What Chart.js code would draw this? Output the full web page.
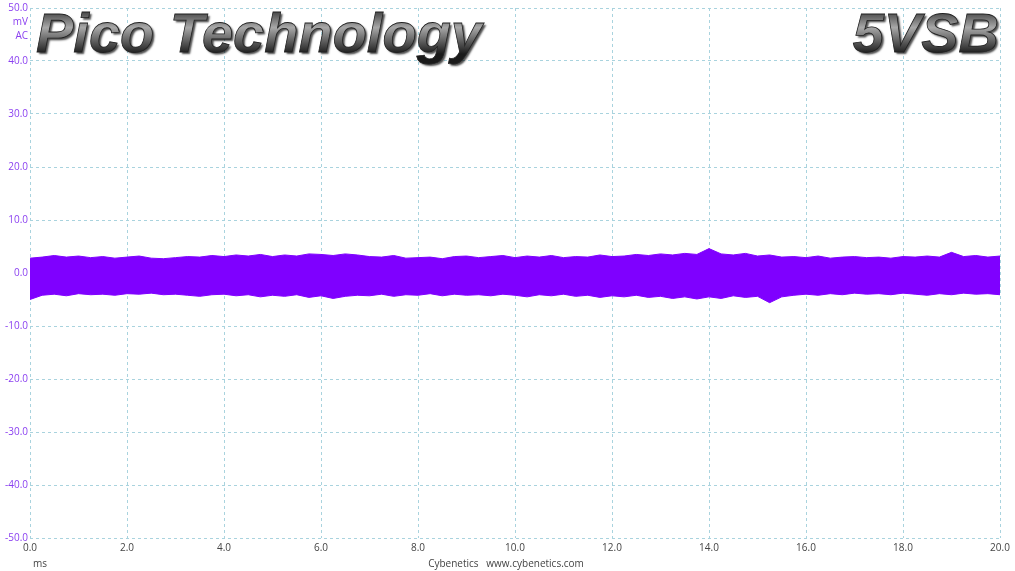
<!DOCTYPE html>
<html>
<head>
<meta charset="utf-8">
<script src="https://cdn.jsdelivr.net/npm/chart.js@4.4.1/dist/chart.umd.min.js"></script>
<style>
  html, body { margin: 0; padding: 0; background: #fff; }
  #wrap { width: 1015px; height: 571px; }
</style>
</head>
<body>
<div id="wrap"><canvas id="scope"></canvas></div>
<script>
// time axis in ms, one sample every 0.25 ms
const times = [];
for (let i = 0; i <= 80; i++) times.push(i * 0.25);

// upper / lower edge of the ripple band (mV)
const upperEdge = [
  2.8, 3.0, 3.3, 3.0, 3.2, 2.9, 3.1, 2.8, 3.0, 3.2,
  2.8, 2.7, 2.9, 3.1, 3.0, 3.3, 3.1, 3.4, 3.2, 3.5,
  3.1, 3.4, 3.2, 3.6, 3.5, 3.3, 3.6, 3.4, 3.1, 3.0,
  3.3, 2.8, 2.9, 3.0, 2.7, 3.1, 3.2, 2.9, 3.1, 3.3,
  2.9, 3.2, 3.0, 3.3, 2.9, 3.1, 3.0, 3.4, 3.1, 3.2,
  3.5, 3.3, 3.6, 3.4, 3.7, 3.5, 4.6, 3.6, 3.4, 3.7,
  3.2, 3.4, 3.0, 3.1, 2.9, 3.2, 2.8, 3.0, 3.1, 2.9,
  3.0, 2.8, 3.1, 3.0, 3.2, 3.0, 3.9, 3.1, 3.3, 3.0,
  3.2
];
const lowerEdge = [
  -5.0, -4.2, -4.0, -4.3, -3.9, -4.1, -4.0, -4.2, -3.9, -4.0,
  -3.8, -4.1, -4.0, -4.2, -4.4, -4.1, -4.0, -4.3, -4.1, -4.5,
  -4.2, -4.4, -4.1, -4.6, -4.3, -4.8, -4.4, -4.2, -4.3, -4.0,
  -4.4, -4.1, -4.2, -3.9, -4.3, -4.0, -4.2, -4.1, -4.3, -4.0,
  -4.2, -4.5, -4.1, -4.3, -4.0, -4.4, -4.2, -4.6, -4.3, -4.5,
  -4.2, -4.6, -4.4, -4.8, -4.5, -4.9, -4.5, -4.8, -4.3, -4.6,
  -4.4, -5.6, -4.5, -4.2, -4.0, -4.2, -3.9, -4.1, -3.8, -4.0,
  -3.9, -4.1, -3.8, -4.0, -4.2, -3.9, -4.1, -3.8, -4.0, -3.9,
  -4.1
];

const traceColor = '#7f00ff';
const gridColor = '#a9d3de';
const labelFont = '"Open Sans", "DejaVu Sans", sans-serif';

// header texts and unit captions
const decorPlugin = {
  id: 'decor',
  afterDraw(chart) {
    const ctx = chart.ctx;
    ctx.save();
    ctx.fillStyle = '#8a3ff0';
    ctx.font = '10px ' + labelFont;
    ctx.textAlign = 'right';
    ctx.textBaseline = 'middle';
    ctx.fillText('mV', 28, 22);
    ctx.fillText('AC', 28, 36);

    ctx.fillStyle = '#444';
    ctx.textAlign = 'left';
    ctx.fillText('ms', 33, 564);
    ctx.textAlign = 'center';
    ctx.fillText('Cybenetics   www.cybenetics.com', 506, 564);

    drawTitle(ctx, 'Pico Technology', 36, 52, 'left');
    drawTitle(ctx, '5VSB', 999, 52, 'right');
    ctx.restore();
  }
};

function drawTitle(ctx, text, x, y, align) {
  ctx.save();
  ctx.font = 'italic bold 56px "Liberation Sans", Arial, sans-serif';
  ctx.textAlign = align;
  ctx.textBaseline = 'alphabetic';
  const grad = ctx.createLinearGradient(0, y - 42, 0, y + 2);
  grad.addColorStop(0, '#3c3c3c');
  grad.addColorStop(0.4, '#a8a8a8');
  grad.addColorStop(0.75, '#555');
  grad.addColorStop(1, '#1a1a1a');
  ctx.shadowColor = 'rgba(0,0,0,0.7)';
  ctx.shadowOffsetX = 2;
  ctx.shadowOffsetY = 2;
  ctx.shadowBlur = 2;
  ctx.fillStyle = grad;
  ctx.fillText(text, x, y);
  ctx.shadowColor = 'transparent';
  ctx.strokeStyle = '#222';
  ctx.lineWidth = 0.8;
  ctx.strokeText(text, x, y);
  ctx.restore();
}

new Chart(document.getElementById('scope'), {
  type: 'line',
  data: {
    datasets: [
      {
        data: times.map((t, i) => ({ x: t, y: upperEdge[i] })),
        borderColor: traceColor,
        borderWidth: 1,
        pointRadius: 0,
        tension: 0,
        fill: false
      },
      {
        data: times.map((t, i) => ({ x: t, y: lowerEdge[i] })),
        borderColor: traceColor,
        backgroundColor: traceColor,
        borderWidth: 1,
        pointRadius: 0,
        tension: 0,
        fill: '-1'
      }
    ]
  },
  options: {
    responsive: true,
    maintainAspectRatio: false,
    animation: false,
    layout: { padding: { top: 8, right: 15, left: 0, bottom: 0 } },
    plugins: {
      legend: { display: false },
      tooltip: { enabled: false }
    },
    scales: {
      x: {
        type: 'linear',
        min: 0,
        max: 20,
        afterFit(axis) { axis.height = 33; },
        border: { display: false, dash: [3, 3] },
        grid: { color: gridColor, drawTicks: false, lineWidth: 1 },
        ticks: {
          stepSize: 2,
          padding: 4,
          color: '#444',
          font: { size: 10, family: labelFont },
          maxRotation: 0,
          callback: v => v.toFixed(1)
        }
      },
      y: {
        min: -50,
        max: 50,
        afterFit(axis) { axis.width = 30; },
        border: { display: false, dash: [3, 3] },
        grid: { color: gridColor, drawTicks: false, lineWidth: 1 },
        ticks: {
          stepSize: 10,
          padding: 2,
          color: '#8a3ff0',
          font: { size: 10, family: labelFont },
          callback: v => v.toFixed(1)
        }
      }
    }
  },
  plugins: [decorPlugin]
});
</script>
</body>
</html>
